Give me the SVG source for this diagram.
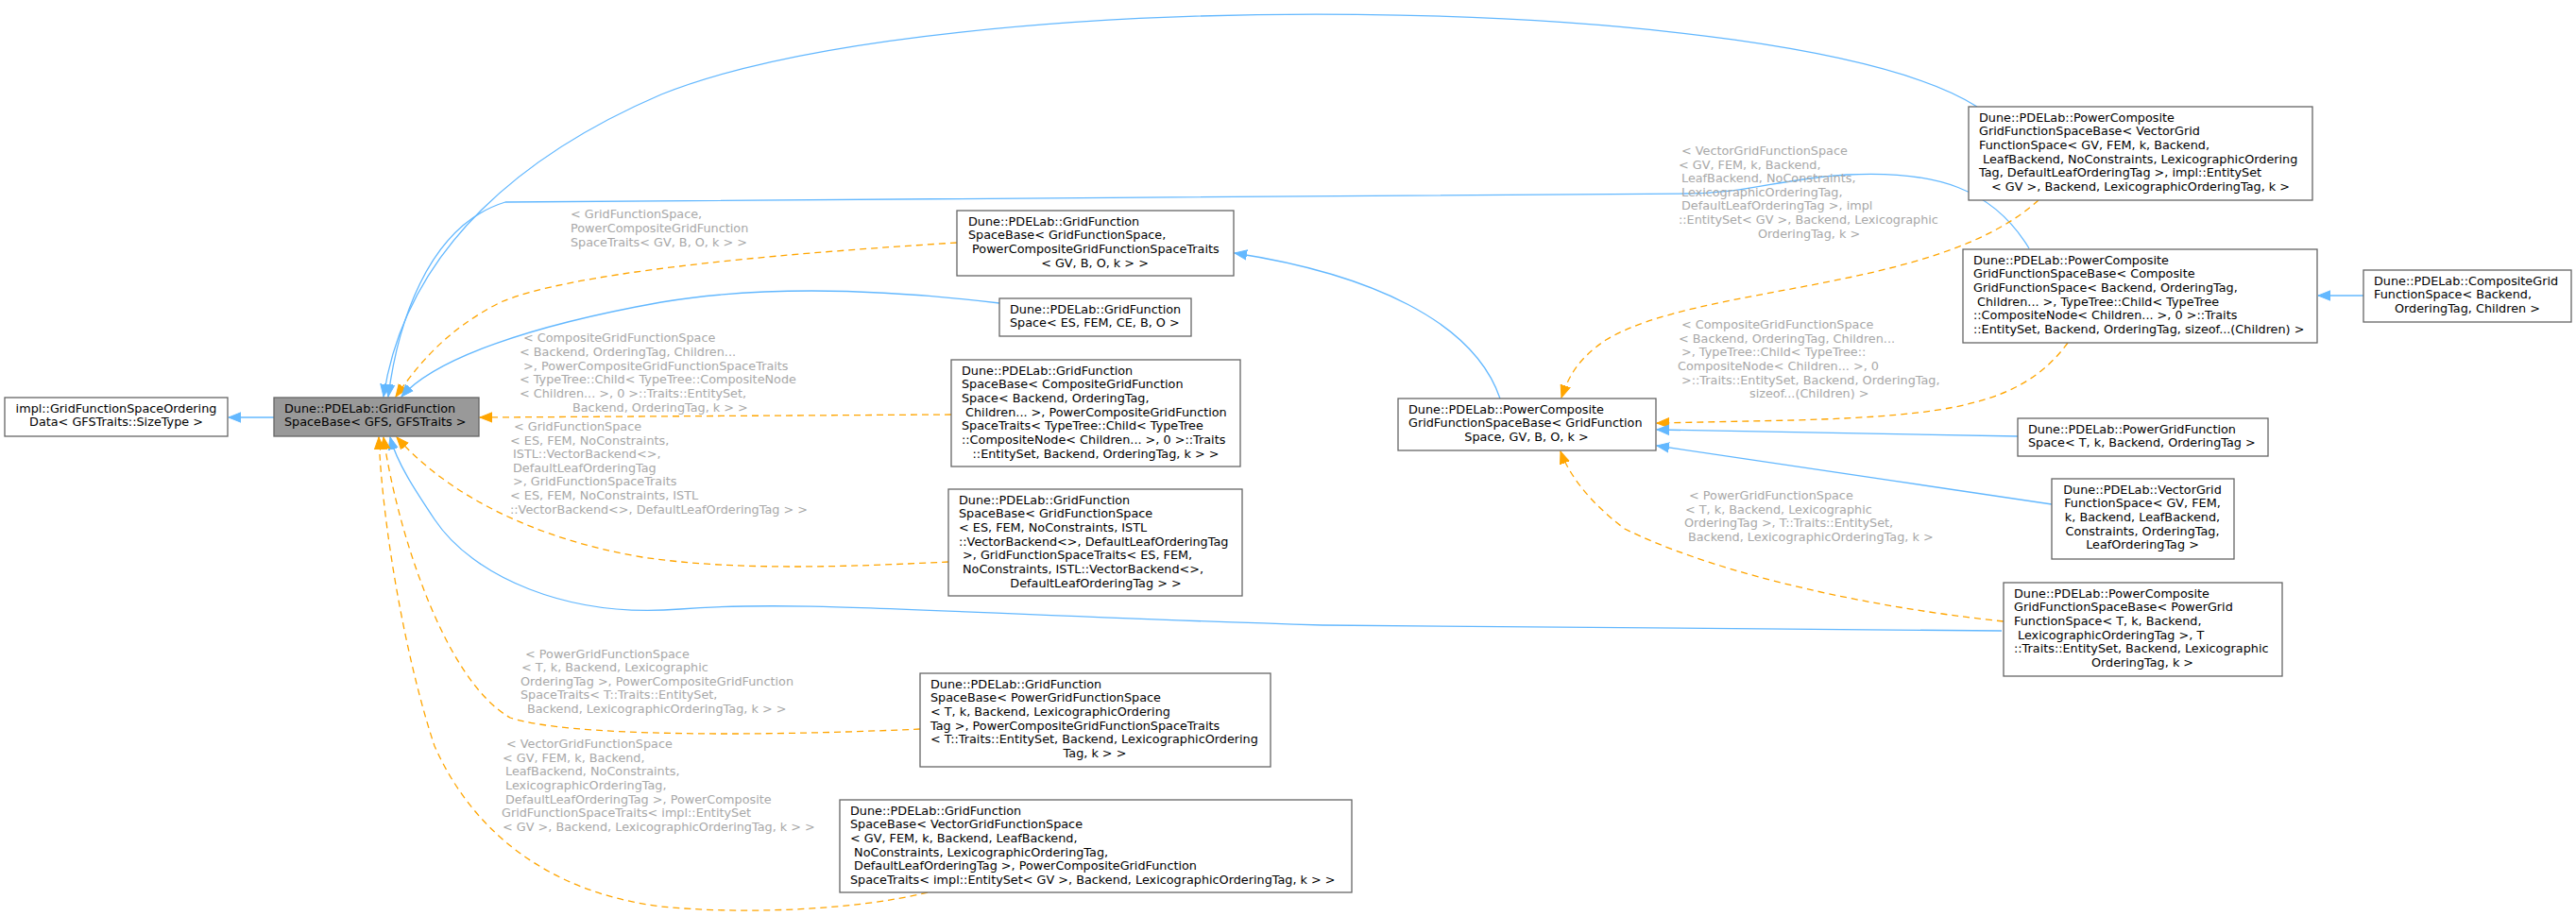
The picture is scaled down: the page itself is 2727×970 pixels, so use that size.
<svg xmlns="http://www.w3.org/2000/svg" width="2727" height="970" viewBox="0 0 2727 970">
<style>
text{font-family:"DejaVu Sans",sans-serif;font-size:12.8px;white-space:pre}
.n{fill:#000}
.l{fill:#a8a8a8}
.m{text-anchor:middle}
rect{fill:#fff;stroke:#666;stroke-width:1.3}
rect.g{fill:#999}
.b{fill:none;stroke:#63b8ff;stroke-width:1.3}
.o{fill:none;stroke:#ffa500;stroke-width:1.3;stroke-dasharray:7,5}
</style>
<defs>
<marker id="ab" markerUnits="userSpaceOnUse" markerWidth="14" markerHeight="12" refX="13" refY="6" orient="auto"><path d="M0,0.8 L13,6 L0,11.2 z" fill="#63b8ff" stroke="#63b8ff"/></marker>
<marker id="ao" markerUnits="userSpaceOnUse" markerWidth="14" markerHeight="12" refX="13" refY="6" orient="auto"><path d="M0,0.8 L13,6 L0,11.2 z" fill="#ffa500" stroke="#ffa500"/></marker>
</defs>
<rect width="2727" height="970" style="fill:#fff;stroke:none"/>
<g id="edges">
<path class="b" marker-end="url(#ab)" d="M290,442 L242,442"/>
<path class="b" marker-end="url(#ab)" d="M2093,113 C1900,-10 1000,-20 700,100 C560,160 430,260 406,420"/>
<path class="b" marker-end="url(#ab)" d="M2148,263 C2110,200 2050,180 1955,185 C1880,190 1850,205 1784,205 L535,214 C450,240 420,350 411,420"/>
<path class="o" marker-end="url(#ao)" d="M1013,257 C800,270 600,290 530,320 C470,350 440,390 419,420"/>
<path class="b" marker-end="url(#ab)" d="M1058,321 C950,308 820,300 700,320 C560,345 460,380 425,420"/>
<path class="o" marker-end="url(#ao)" d="M1007,439 L508,442"/>
<path class="o" marker-end="url(#ao)" d="M1004,595 C900,600 780,605 680,590 C560,570 470,520 420,463"/>
<path class="b" marker-end="url(#ab)" d="M2119,668 L1400,662 C1000,650 850,635 720,645 C600,655 500,610 460,550 C440,520 420,490 413,463"/>
<path class="o" marker-end="url(#ao)" d="M974,772 C800,780 600,780 540,760 C470,720 420,560 406,463"/>
<path class="o" marker-end="url(#ao)" d="M982,945 C900,965 780,968 700,960 C580,945 500,880 460,790 C430,700 405,560 401,463"/>
<path class="b" marker-end="url(#ab)" d="M1588,422 C1560,340 1450,290 1307,268"/>
<path class="o" marker-end="url(#ao)" d="M2158,212 C2050,310 1800,300 1700,360 C1670,380 1660,400 1653,421"/>
<path class="o" marker-end="url(#ao)" d="M2189,363 C2140,430 2060,440 1900,445 L1754,448"/>
<path class="b" marker-end="url(#ab)" d="M2136,462 L1754,455"/>
<path class="b" marker-end="url(#ab)" d="M2172,534 L1754,472"/>
<path class="o" marker-end="url(#ao)" d="M2121,658 C1950,640 1800,600 1720,560 C1680,530 1660,500 1652,478"/>
<path class="b" marker-end="url(#ab)" d="M2502,313 L2454,313"/>
</g>
<g id="labels">
<text class="l"><tspan x="604" y="231">&lt; GridFunctionSpace,</tspan><tspan x="604" y="246">PowerCompositeGridFunction</tspan><tspan x="604" y="261">SpaceTraits&lt; GV, B, O, k &gt; &gt;</tspan></text>
<text class="l"><tspan x="554" y="362">&lt; CompositeGridFunctionSpace</tspan><tspan x="550" y="377">&lt; Backend, OrderingTag, Children...</tspan><tspan x="550" y="392"> &gt;, PowerCompositeGridFunctionSpaceTraits</tspan><tspan x="550" y="406">&lt; TypeTree::Child&lt; TypeTree::CompositeNode</tspan><tspan x="550" y="421">&lt; Children... &gt;, 0 &gt;::Traits::EntitySet,</tspan><tspan x="606" y="436">Backend, OrderingTag, k &gt; &gt;</tspan></text>
<text class="l"><tspan x="544" y="456">&lt; GridFunctionSpace</tspan><tspan x="540" y="471">&lt; ES, FEM, NoConstraints,</tspan><tspan x="543" y="485">ISTL::VectorBackend&lt;&gt;,</tspan><tspan x="543" y="500">DefaultLeafOrderingTag</tspan><tspan x="543" y="514">&gt;, GridFunctionSpaceTraits</tspan><tspan x="540" y="529">&lt; ES, FEM, NoConstraints, ISTL</tspan><tspan x="540" y="544">::VectorBackend&lt;&gt;, DefaultLeafOrderingTag &gt; &gt;</tspan></text>
<text class="l"><tspan x="556" y="697">&lt; PowerGridFunctionSpace</tspan><tspan x="552" y="711">&lt; T, k, Backend, Lexicographic</tspan><tspan x="551" y="726">OrderingTag &gt;, PowerCompositeGridFunction</tspan><tspan x="551" y="740">SpaceTraits&lt; T::Traits::EntitySet,</tspan><tspan x="558" y="755">Backend, LexicographicOrderingTag, k &gt; &gt;</tspan></text>
<text class="l"><tspan x="536" y="792">&lt; VectorGridFunctionSpace</tspan><tspan x="532" y="807">&lt; GV, FEM, k, Backend,</tspan><tspan x="535" y="821">LeafBackend, NoConstraints,</tspan><tspan x="535" y="836">LexicographicOrderingTag,</tspan><tspan x="535" y="851">DefaultLeafOrderingTag &gt;, PowerComposite</tspan><tspan x="531" y="865">GridFunctionSpaceTraits&lt; impl::EntitySet</tspan><tspan x="532" y="880">&lt; GV &gt;, Backend, LexicographicOrderingTag, k &gt; &gt;</tspan></text>
<text class="l"><tspan x="1780" y="164">&lt; VectorGridFunctionSpace</tspan><tspan x="1777" y="179">&lt; GV, FEM, k, Backend,</tspan><tspan x="1780" y="193">LeafBackend, NoConstraints,</tspan><tspan x="1780" y="208">LexicographicOrderingTag,</tspan><tspan x="1780" y="222">DefaultLeafOrderingTag &gt;, impl</tspan><tspan x="1777" y="237">::EntitySet&lt; GV &gt;, Backend, Lexicographic</tspan><tspan x="1861" y="252">OrderingTag, k &gt;</tspan></text>
<text class="l"><tspan x="1780" y="348">&lt; CompositeGridFunctionSpace</tspan><tspan x="1777" y="363">&lt; Backend, OrderingTag, Children...</tspan><tspan x="1780" y="377">&gt;, TypeTree::Child&lt; TypeTree::</tspan><tspan x="1776" y="392">CompositeNode&lt; Children... &gt;, 0</tspan><tspan x="1780" y="407">&gt;::Traits::EntitySet, Backend, OrderingTag,</tspan><tspan x="1852" y="421">sizeof...(Children) &gt;</tspan></text>
<text class="l"><tspan x="1788" y="529">&lt; PowerGridFunctionSpace</tspan><tspan x="1784" y="544">&lt; T, k, Backend, Lexicographic</tspan><tspan x="1783" y="558">OrderingTag &gt;, T::Traits::EntitySet,</tspan><tspan x="1787" y="573">Backend, LexicographicOrderingTag, k &gt;</tspan></text>
</g>
<g id="n1"><rect x="5" y="421" width="236" height="41"/><text class="n m"><tspan x="123" y="436.5">impl::GridFunctionSpaceOrdering</tspan><tspan x="123" y="451.2">Data&lt; GFSTraits::SizeType &gt;</tspan></text></g>
<g id="n2"><rect class="g" x="290" y="421" width="217" height="41"/><text class="n"><tspan x="301" y="436.5">Dune::PDELab::GridFunction</tspan><tspan x="301" y="451.2">SpaceBase&lt; GFS, GFSTraits &gt;</tspan></text></g>
<g id="n3"><rect x="1013" y="223" width="293" height="69"/><text class="n"><tspan x="1025" y="238.5">Dune::PDELab::GridFunction</tspan><tspan x="1025" y="253.2">SpaceBase&lt; GridFunctionSpace,</tspan><tspan x="1025" y="267.9"> PowerCompositeGridFunctionSpaceTraits</tspan><tspan class="m" x="1159" y="282.6">&lt; GV, B, O, k &gt; &gt;</tspan></text></g>
<g id="n4"><rect x="1058" y="316" width="203" height="40"/><text class="n"><tspan x="1069" y="331.5">Dune::PDELab::GridFunction</tspan><tspan x="1069" y="346.2">Space&lt; ES, FEM, CE, B, O &gt;</tspan></text></g>
<g id="n5"><rect x="1007" y="381" width="306" height="113"/><text class="n"><tspan x="1018" y="396.5">Dune::PDELab::GridFunction</tspan><tspan x="1018" y="411.2">SpaceBase&lt; CompositeGridFunction</tspan><tspan x="1018" y="425.9">Space&lt; Backend, OrderingTag,</tspan><tspan x="1018" y="440.6"> Children... &gt;, PowerCompositeGridFunction</tspan><tspan x="1018" y="455.3">SpaceTraits&lt; TypeTree::Child&lt; TypeTree</tspan><tspan x="1018" y="470">::CompositeNode&lt; Children... &gt;, 0 &gt;::Traits</tspan><tspan class="m" x="1160" y="484.7">::EntitySet, Backend, OrderingTag, k &gt; &gt;</tspan></text></g>
<g id="n6"><rect x="1004" y="518" width="311" height="113"/><text class="n"><tspan x="1015" y="533.5">Dune::PDELab::GridFunction</tspan><tspan x="1015" y="548.2">SpaceBase&lt; GridFunctionSpace</tspan><tspan x="1015" y="562.9">&lt; ES, FEM, NoConstraints, ISTL</tspan><tspan x="1015" y="577.6">::VectorBackend&lt;&gt;, DefaultLeafOrderingTag</tspan><tspan x="1015" y="592.3"> &gt;, GridFunctionSpaceTraits&lt; ES, FEM,</tspan><tspan x="1019" y="607">NoConstraints, ISTL::VectorBackend&lt;&gt;,</tspan><tspan class="m" x="1160" y="621.7">DefaultLeafOrderingTag &gt; &gt;</tspan></text></g>
<g id="n7"><rect x="974" y="713" width="371" height="99"/><text class="n"><tspan x="985" y="728.5">Dune::PDELab::GridFunction</tspan><tspan x="985" y="743.2">SpaceBase&lt; PowerGridFunctionSpace</tspan><tspan x="985" y="757.9">&lt; T, k, Backend, LexicographicOrdering</tspan><tspan x="985" y="772.6">Tag &gt;, PowerCompositeGridFunctionSpaceTraits</tspan><tspan x="985" y="787.3">&lt; T::Traits::EntitySet, Backend, LexicographicOrdering</tspan><tspan class="m" x="1159" y="802">Tag, k &gt; &gt;</tspan></text></g>
<g id="n8"><rect x="889" y="847" width="542" height="98"/><text class="n"><tspan x="900" y="862.5">Dune::PDELab::GridFunction</tspan><tspan x="900" y="877.2">SpaceBase&lt; VectorGridFunctionSpace</tspan><tspan x="900" y="891.9">&lt; GV, FEM, k, Backend, LeafBackend,</tspan><tspan x="900" y="906.6"> NoConstraints, LexicographicOrderingTag,</tspan><tspan x="900" y="921.3"> DefaultLeafOrderingTag &gt;, PowerCompositeGridFunction</tspan><tspan x="900" y="936">SpaceTraits&lt; impl::EntitySet&lt; GV &gt;, Backend, LexicographicOrderingTag, k &gt; &gt;</tspan></text></g>
<g id="n9"><rect x="1480" y="422" width="273" height="55"/><text class="n"><tspan x="1491" y="437.5">Dune::PDELab::PowerComposite</tspan><tspan x="1491" y="452.2">GridFunctionSpaceBase&lt; GridFunction</tspan><tspan class="m" x="1616" y="466.9">Space, GV, B, O, k &gt;</tspan></text></g>
<g id="n10"><rect x="2084" y="113" width="364" height="99"/><text class="n"><tspan x="2095" y="128.5">Dune::PDELab::PowerComposite</tspan><tspan x="2095" y="143.2">GridFunctionSpaceBase&lt; VectorGrid</tspan><tspan x="2095" y="157.9">FunctionSpace&lt; GV, FEM, k, Backend,</tspan><tspan x="2095" y="172.6"> LeafBackend, NoConstraints, LexicographicOrdering</tspan><tspan x="2095" y="187.3">Tag, DefaultLeafOrderingTag &gt;, impl::EntitySet</tspan><tspan class="m" x="2266" y="202">&lt; GV &gt;, Backend, LexicographicOrderingTag, k &gt;</tspan></text></g>
<g id="n11"><rect x="2078" y="264" width="375" height="99"/><text class="n"><tspan x="2089" y="279.5">Dune::PDELab::PowerComposite</tspan><tspan x="2089" y="294.2">GridFunctionSpaceBase&lt; Composite</tspan><tspan x="2089" y="308.9">GridFunctionSpace&lt; Backend, OrderingTag,</tspan><tspan x="2089" y="323.6"> Children... &gt;, TypeTree::Child&lt; TypeTree</tspan><tspan x="2089" y="338.3">::CompositeNode&lt; Children... &gt;, 0 &gt;::Traits</tspan><tspan x="2089" y="353">::EntitySet, Backend, OrderingTag, sizeof...(Children) &gt;</tspan></text></g>
<g id="n12"><rect x="2502" y="286" width="220" height="55"/><text class="n"><tspan x="2513" y="301.5">Dune::PDELab::CompositeGrid</tspan><tspan x="2513" y="316.2">FunctionSpace&lt; Backend,</tspan><tspan class="m" x="2612" y="330.9">OrderingTag, Children &gt;</tspan></text></g>
<g id="n14"><rect x="2136" y="443" width="265" height="40"/><text class="n"><tspan x="2147" y="458.5">Dune::PDELab::PowerGridFunction</tspan><tspan x="2147" y="473.2">Space&lt; T, k, Backend, OrderingTag &gt;</tspan></text></g>
<g id="n15"><rect x="2172" y="507" width="193" height="85"/><text class="n m"><tspan x="2268" y="522.5">Dune::PDELab::VectorGrid</tspan><tspan x="2268" y="537.2">FunctionSpace&lt; GV, FEM,</tspan><tspan x="2268" y="551.9">k, Backend, LeafBackend,</tspan><tspan x="2268" y="566.6">Constraints, OrderingTag,</tspan><tspan x="2268" y="581.3">LeafOrderingTag &gt;</tspan></text></g>
<g id="n13"><rect x="2121" y="617" width="295" height="99"/><text class="n"><tspan x="2132" y="632.5">Dune::PDELab::PowerComposite</tspan><tspan x="2132" y="647.2">GridFunctionSpaceBase&lt; PowerGrid</tspan><tspan x="2132" y="661.9">FunctionSpace&lt; T, k, Backend,</tspan><tspan x="2132" y="676.6"> LexicographicOrderingTag &gt;, T</tspan><tspan x="2132" y="691.3">::Traits::EntitySet, Backend, Lexicographic</tspan><tspan class="m" x="2268" y="706">OrderingTag, k &gt;</tspan></text></g>
</svg>
